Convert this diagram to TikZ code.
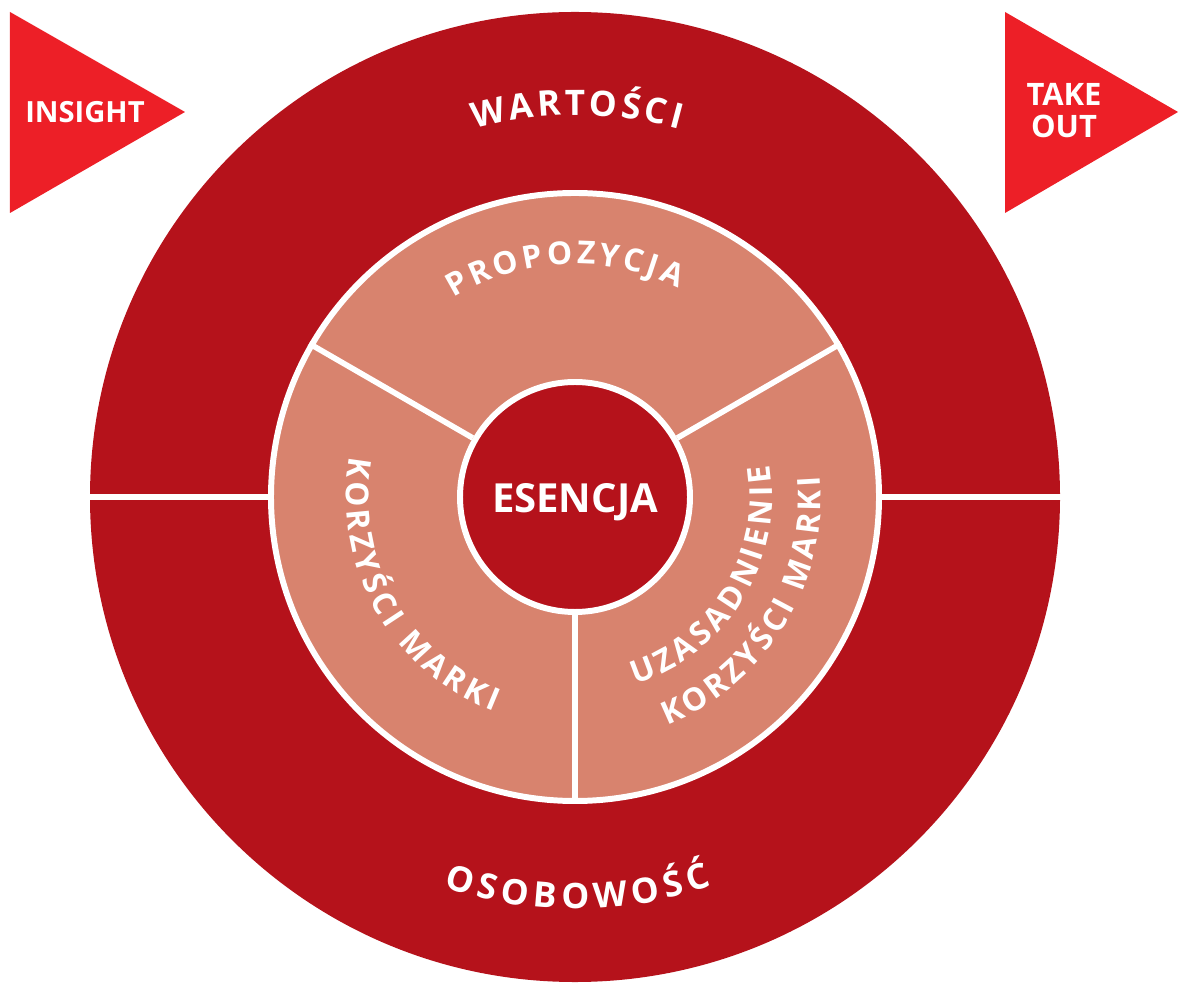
\documentclass[tikz,border=0pt]{standalone}
\usepackage{fontspec}
\setsansfont{Open Sans}
\newfontfamily\ringfont{Open Sans}
\usetikzlibrary{decorations.text}
\definecolor{darkred}{HTML}{B5121B}
\definecolor{salmon}{HTML}{D8836E}
\definecolor{brightred}{HTML}{ED1F27}

\begin{document}
\begin{tikzpicture}[
  ring/.style={circle, inner sep=0pt},
  divider/.style={white, line width=1.6pt},
  whitetext/.style={text=white, inner sep=0pt, font=\sffamily\bfseries\fontsize{8.8}{9.1}\selectfont}]
\useasboundingbox (-5.75,-4.88) rectangle (6.04,4.97);

% rings
\node[ring, fill=darkred, minimum size=9.7cm] (outer) at (0,0) {};
\draw[divider] (outer.west) -- (outer.east);
\node[ring, fill=salmon, draw=white, line width=1.7pt, minimum size=6.08cm] (middle) at (0,0) {};
\node[ring, fill=darkred, draw=white, line width=1.7pt, minimum size=2.3cm] (inner) at (0,0) {};
\draw[divider] (inner.30) -- (middle.30);
\draw[divider] (inner.150) -- (middle.150);
\draw[divider] (inner.270) -- (middle.270);

% arrows
\fill[brightred] (-5.65,4.85) -- (-5.65,2.84) -- (-3.90,3.85) -- cycle;
\fill[brightred] (4.30,4.85) -- (4.30,2.84) -- (6.03,3.85) -- cycle;
\node[whitetext, font=\sffamily\bfseries\fontsize{8.3}{9}\selectfont] (insight) at (-4.90,3.85) {INSIGHT};
\node[whitetext, align=center] (takeout) at (4.89,3.86) {TAKE\\OUT};

% centre
\node[whitetext, font=\sffamily\bfseries\fontsize{11.4}{12}\selectfont] (essence) at (0,-0.05) {ESENCJA};

% curved labels
\path[decorate, decoration={text along path, text align=center, text color=white,
  text={|\ringfont\bfseries\fontsize{10}{11}\selectfont\kern1pt|WARTOŚCI}}]
  (180:3.82) arc (180:0:3.82);
\path[decorate, decoration={text along path, text align=center, text color=white,
  text={|\ringfont\bfseries\fontsize{10}{11}\selectfont\kern1.5pt|OSOBOWOŚĆ}}]
  (210:4.12) arc (210:330:4.12);
\path[decorate, decoration={text along path, text align=center, text color=white,
  text={|\ringfont\bfseries\fontsize{9}{10}\selectfont\kern1.05pt|PROPOZYCJA}}]
  (153:2.33) arc (153:33:2.33);
\path[decorate, decoration={text along path, text align=center, text color=white,
  text={|\ringfont\bfseries\fontsize{9}{10}\selectfont\kern1.15pt|KORZYŚCI MARKI}}]
  (149:2.29) arc (149:269:2.29);
\path[decorate, decoration={text along path, text align=center, text color=white,
  text={|\ringfont\bfseries\fontsize{9}{10}\selectfont\kern1.2pt|UZASADNIENIE}}]
  (-92:1.97) arc (-92:28:1.97);
\path[decorate, decoration={text along path, text align=center, text color=white,
  text={|\ringfont\bfseries\fontsize{9}{10}\selectfont\kern1.05pt|KORZYŚCI MARKI}}]
  (-92:2.46) arc (-92:28:2.46);
\end{tikzpicture}
\end{document}
